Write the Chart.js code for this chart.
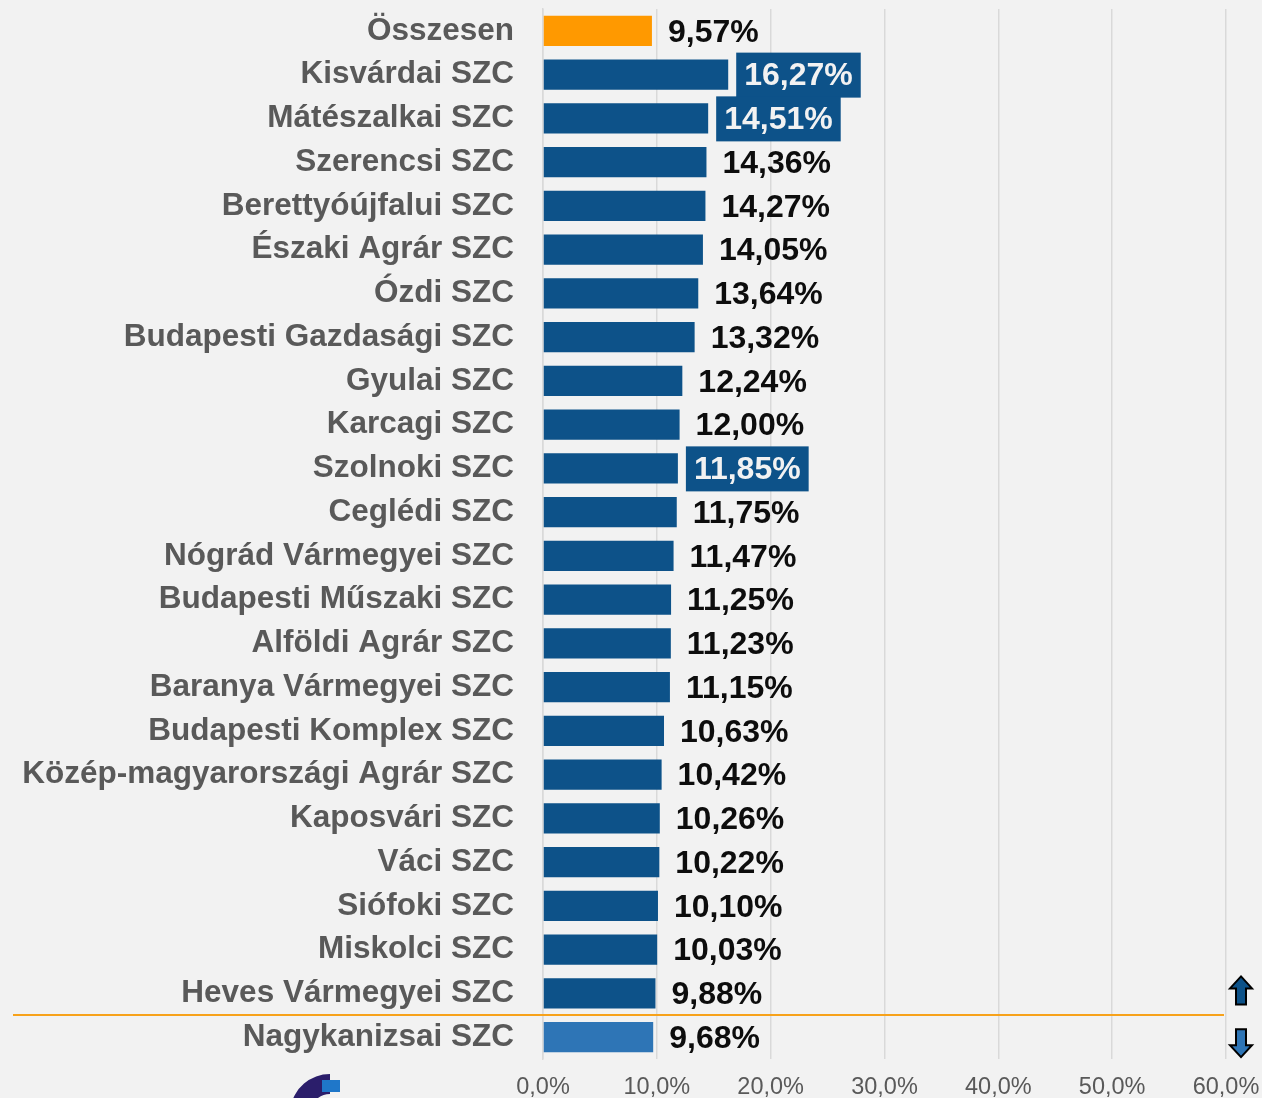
<!DOCTYPE html>
<html>
<head>
<meta charset="utf-8">
<script src="https://cdn.jsdelivr.net/npm/chart.js@4"></script>
<style>
    html, body { margin: 0; padding: 0; background: #F2F2F2; }
    #wrap { width: 1262px; height: 1098px; position: relative; }
</style>
</head>
<body>
<div id="wrap"><canvas id="myChart"></canvas></div>
<script>
const categories = [
    'Összesen', 'Kisvárdai SZC', 'Mátészalkai SZC', 'Szerencsi SZC', 'Berettyóújfalui SZC',
    'Északi Agrár SZC', 'Ózdi SZC', 'Budapesti Gazdasági SZC', 'Gyulai SZC', 'Karcagi SZC',
    'Szolnoki SZC', 'Ceglédi SZC', 'Nógrád Vármegyei SZC', 'Budapesti Műszaki SZC',
    'Alföldi Agrár SZC', 'Baranya Vármegyei SZC', 'Budapesti Komplex SZC',
    'Közép-magyarországi Agrár SZC', 'Kaposvári SZC', 'Váci SZC', 'Siófoki SZC',
    'Miskolci SZC', 'Heves Vármegyei SZC', 'Nagykanizsai SZC'
];
const values = [
    9.57, 16.27, 14.51, 14.36, 14.27, 14.05, 13.64, 13.32, 12.24, 12.00, 11.85, 11.75,
    11.47, 11.25, 11.23, 11.15, 10.63, 10.42, 10.26, 10.22, 10.10, 10.03, 9.88, 9.68
];
const xTicks = [0, 10, 20, 30, 40, 50, 60];
// rows whose value label sits in a dark box
const highlighted = [1, 2, 10];

const DARK = '#0D5289';
const LIGHT = '#2E75B6';
const ORANGE = '#FF9900';
const FONT = '"Liberation Sans", Arial, sans-serif';

function pct(v, d) {
    return v.toFixed(d).replace('.', ',') + '%';
}

const barColors = categories.map((c, i) => i === 0 ? ORANGE : (i === categories.length - 1 ? LIGHT : DARK));

const extras = {
    id: 'extras',
    afterDatasetsDraw(chart) {
        const ctx = chart.ctx;
        const meta = chart.getDatasetMeta(0);
        const y = chart.scales.y;
        ctx.save();
        ctx.font = 'bold 32px ' + FONT;
        ctx.textBaseline = 'middle';
        ctx.textAlign = 'left';
        meta.data.forEach((bar, i) => {
            const txt = pct(values[i], 2);
            const tx = bar.x + 16;
            const ty = bar.y + 2;
            if (highlighted.includes(i)) {
                const w = ctx.measureText(txt).width;
                ctx.fillStyle = DARK;
                ctx.fillRect(tx - 8, bar.y - 22, w + 16, 45);
                ctx.fillStyle = '#F2F2F2';
            } else {
                ctx.fillStyle = '#0D0D0D';
            }
            ctx.fillText(txt, tx, ty);
        });

        // orange separator between last two rows
        const n = categories.length;
        const ly = Math.round((y.getPixelForValue(n - 2) + y.getPixelForValue(n - 1)) / 2);
        ctx.strokeStyle = '#F7A21B';
        ctx.lineWidth = 2;
        ctx.beginPath();
        ctx.moveTo(13, ly);
        ctx.lineTo(chart.chartArea.right - 2, ly);
        ctx.stroke();

        // arrows
        const ax = 1241;
        const drawArrow = (cy, up, fill) => {
            const s = up ? -1 : 1;
            ctx.beginPath();
            ctx.moveTo(ax, cy + s * 14);
            ctx.lineTo(ax + 11, cy + s * 2);
            ctx.lineTo(ax + 5, cy + s * 2);
            ctx.lineTo(ax + 5, cy - s * 14);
            ctx.lineTo(ax - 5, cy - s * 14);
            ctx.lineTo(ax - 5, cy + s * 2);
            ctx.lineTo(ax - 11, cy + s * 2);
            ctx.closePath();
            ctx.fillStyle = fill;
            ctx.fill();
            ctx.strokeStyle = '#000000';
            ctx.lineWidth = 2;
            ctx.stroke();
        };
        drawArrow(y.getPixelForValue(n - 2) - 3, true, DARK);
        drawArrow(y.getPixelForValue(n - 1) + 6, false, LIGHT);

        // partial logo at bottom left
        ctx.beginPath();
        ctx.arc(330, 1114, 40, Math.PI * 1.05, Math.PI * 1.5);
        ctx.lineTo(330, 1094);
        ctx.arc(330, 1114, 20, Math.PI * 1.5, Math.PI * 1.05, true);
        ctx.closePath();
        ctx.fillStyle = '#2B1E6B';
        ctx.fill();
        ctx.fillStyle = '#1F77C9';
        ctx.fillRect(322, 1080, 18, 12);
        ctx.restore();
    }
};

const ctx = document.getElementById('myChart').getContext('2d');
const myChart = new Chart(ctx, {
    type: 'bar',
    data: {
        labels: categories,
        datasets: [{
            data: values,
            backgroundColor: barColors,
            borderWidth: 0,
            categoryPercentage: 0.69,
            barPercentage: 1
        }]
    },
    plugins: [extras],
    options: {
        indexAxis: 'y',
        responsive: true,
        maintainAspectRatio: false,
        animation: false,
        layout: { padding: { top: 9, right: 36, left: 0, bottom: 0 } },
        plugins: {
            legend: { display: false },
            tooltip: { enabled: false }
        },
        scales: {
            x: {
                min: 0,
                max: 60,
                afterBuildTicks: (scale) => { scale.ticks = xTicks.map(v => ({ value: v })); },
                afterFit: (scale) => {
                    scale.height = 39;
                    scale.paddingLeft = 0;
                    scale.paddingRight = 0;
                },
                grid: { color: '#D9D9D9', lineWidth: 1.5, drawTicks: false },
                border: { display: false },
                ticks: {
                    padding: 14,
                    color: '#595959',
                    font: { family: FONT, size: 23.5 },
                    callback: (v) => pct(v, 1)
                }
            },
            y: {
                afterFit: (scale) => {
                    scale.width = 543;
                    scale.paddingTop = 0;
                    scale.paddingBottom = 0;
                },
                grid: { display: false, drawTicks: false },
                border: { display: true, color: '#D9D9D9', width: 1.5 },
                ticks: {
                    padding: 29,
                    color: '#595959',
                    font: { family: FONT, size: 31.5, weight: 'bold' }
                }
            }
        }
    }
});
</script>
</body>
</html>
